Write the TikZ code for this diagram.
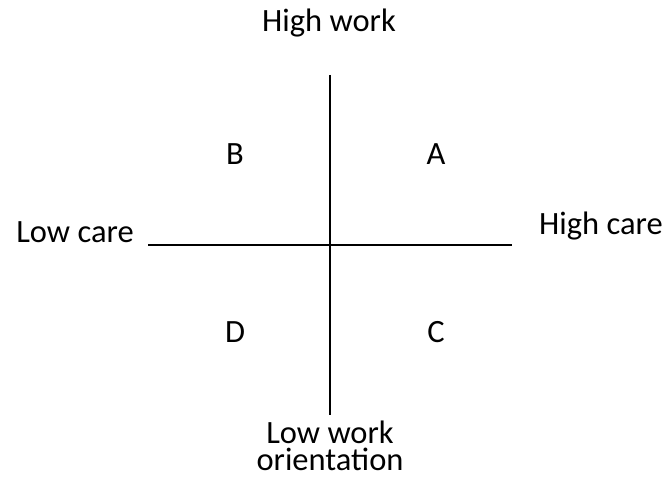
\documentclass[tikz,border=0pt]{standalone}
\usepackage{fontspec}
\setmainfont{Carlito}
\begin{document}
\begin{tikzpicture}[x=1pt,y=1pt,
  lbl/.style={font=\fontsize{32.5}{27}\selectfont, inner sep=0pt, anchor=base, align=center},
  axis/.style={draw=black, line width=1.2pt}]
\useasboundingbox (0,0) rectangle (668,477);
\coordinate (vtop) at (330,402);
\coordinate (vbot) at (330,62);
\coordinate (hl) at (148,232);
\coordinate (hr) at (512,232);
\draw[axis] (vtop) -- (vbot);
\draw[axis] (hl) -- (hr);
\node[lbl] (hw) at (329,445) {High work};
\node[lbl] (lc) at (75,235) {Low care};
\node[lbl] (hc) at (601,243) {High care};
\node[lbl] (B) at (235,312) {B};
\node[lbl] (A) at (436,312) {A};
\node[lbl] (D) at (235,135) {D};
\node[lbl] (C) at (436,135) {C};
\node[lbl] (lw) at (330,7) {Low work\\orientation};
\end{tikzpicture}
\end{document}
